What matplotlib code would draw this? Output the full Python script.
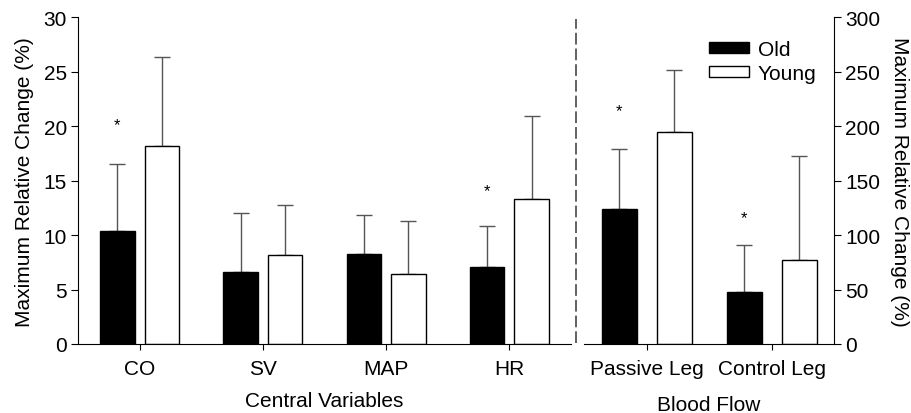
import matplotlib
matplotlib.use("Agg")
import matplotlib.pyplot as plt
from matplotlib.lines import Line2D
import numpy as np

plt.rcParams['font.family'] = ['Liberation Sans', 'DejaVu Sans']

# Central variables (left axis, %)
central_cats = ["CO", "SV", "MAP", "HR"]
central_old = [10.4, 6.6, 8.3, 7.1]
central_old_err = [6.1, 5.45, 3.5, 3.75]
central_young = [18.2, 8.2, 6.45, 13.35]
central_young_err = [8.2, 4.6, 4.85, 7.55]
central_star = [20.1, None, None, 14.1]

# Blood flow (right axis, %)
flow_cats = ["Passive Leg", "Control Leg"]
flow_old = [124, 48]
flow_old_err = [55, 43]
flow_young = [195, 77]
flow_young_err = [57, 96]
flow_star = [214, 116]

W, H = 911, 414
fig = plt.figure(figsize=(W / 100, H / 100), dpi=100)

def fx(px):
    return px / W

def fy(py):
    return 1 - py / H

bottom = fy(345)
top = fy(18.3)
axL = fig.add_axes([fx(78), bottom, fx(571) - fx(78), top - bottom])
axR = fig.add_axes([fx(584), bottom, fx(834) - fx(584), top - bottom])

FS = 15
ecol = "#555555"
w = 0.28

def draw(ax, cats, old, olderr, young, youngerr, stars, off):
    x = np.arange(len(cats))
    ax.bar(x - off, old, w, color="black", edgecolor="black", linewidth=1, zorder=2, label="Old")
    ax.bar(x + off, young, w, color="white", edgecolor="black", linewidth=1, zorder=2, label="Young")
    ax.errorbar(x - off, old, yerr=[np.zeros(len(x)), olderr], fmt="none",
                ecolor=ecol, elinewidth=1, capsize=5.5, capthick=1, zorder=1)
    ax.errorbar(x + off, young, yerr=[np.zeros(len(x)), youngerr], fmt="none",
                ecolor=ecol, elinewidth=1, capsize=5.5, capthick=1, zorder=1)
    for xi, s in zip(x, stars):
        if s is not None:
            ax.text(xi - off, s, "*", ha="center", va="center", fontsize=12)
    ax.set_xticks(x)
    ax.set_xticklabels(cats, fontsize=FS)
    ax.set_xlim(-0.5, len(cats) - 0.5)
    ax.spines["top"].set_visible(False)
    ax.tick_params(axis="x", length=4, width=0.8, direction="out", pad=7)
    ax.tick_params(axis="y", length=5, width=0.8, direction="out", labelsize=FS, pad=3)

draw(axL, central_cats, central_old, central_old_err, central_young, central_young_err, central_star, 0.18)
axL.set_ylim(0, 30)
axL.set_yticks([0, 5, 10, 15, 20, 25, 30])
axL.spines["right"].set_visible(False)
axL.set_ylabel("Maximum Relative Change (%)", fontsize=FS, labelpad=7)
axL.set_xlabel("Central Variables", fontsize=FS, labelpad=9)

draw(axR, flow_cats, flow_old, flow_old_err, flow_young, flow_young_err, flow_star, 0.22)
axR.set_ylim(0, 300)
axR.set_yticks([0, 50, 100, 150, 200, 250, 300])
axR.spines["left"].set_visible(False)
axR.yaxis.tick_right()
axR.yaxis.set_label_position("right")
axR.set_ylabel("Maximum Relative Change (%)", fontsize=FS, rotation=270, labelpad=21)
axR.set_xlabel("Blood Flow", fontsize=FS, labelpad=12)
axR.legend(loc="upper left", bbox_to_anchor=(0.5, 0.93), frameon=False, fontsize=FS,
           handlelength=1.9, handleheight=0.45, handletextpad=0.45, labelspacing=0.22,
           borderpad=0, borderaxespad=0)

# dashed separator
fig.add_artist(Line2D([fx(576), fx(576)], [fy(344), fy(20)], transform=fig.transFigure,
                      color="#555555", linewidth=1.3, linestyle=(0, (6.5, 2.2))))

fig.savefig("out.png", dpi=100)
